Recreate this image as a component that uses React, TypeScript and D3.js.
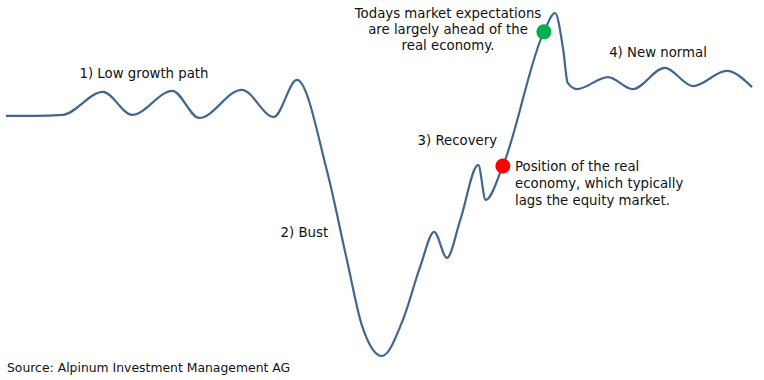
import React from "react";
import * as d3 from "d3";

// time (arbitrary units 0..100) and level (0 = trough, 100 = peak)
const times = [0, 3.9, 7.6, 13.0, 16.9, 22.3, 25.9, 31.6, 35.9, 39.0, 43.0, 45.7, 47.7, 50.4, 53.2, 55.5, 57.4, 59.1, 60.9, 63.3, 64.3, 66.6, 72.1, 73.6, 74.7, 75.3, 76.5, 80.7, 84.0, 88.3, 92.1, 96.6, 100];
const levels = [70.0, 70.0, 70.3, 77.0, 70.3, 77.3, 69.4, 77.6, 69.7, 80.5, 54.2, 28.0, 9.0, 0, 10.5, 25.9, 36.2, 28.6, 39.7, 55.7, 45.5, 55.4, 94.5, 100, 89.2, 79.6, 77.8, 81.3, 77.8, 84.0, 78.7, 83.1, 78.4];

const markerNames = ["real", "market"];
const markerTimes = [66.6, 72.1];
const markerLevels = [55.4, 94.5];
const markerColors = ["#ff0000", "#00b050"];

const phaseLabels = ["1) Low growth path", "2) Bust", "3) Recovery", "4) New normal"];
const phaseTimes = [18.5, 40.0, 60.5, 87.4];
const phaseLevels = [82.2, 35.8, 62.7, 88.4];

const marketNote = ["Todays market expectations", "are largely ahead of the", "real economy."];
const realNote = ["Position of the real", "economy, which typically", "lags the equity market."];
const source = "Source: Alpinum Investment Management AG";

const W = 764;
const H = 380;
const FONT = 'Verdana, "DejaVu Sans", sans-serif';

export default function App() {
  const x = d3.scaleLinear().domain([0, 100]).range([6, 752]);
  const y = d3.scaleLinear().domain([0, 100]).range([356, 13]);
  const data = times.map((t, i) => ({ t, v: levels[i] }));
  const line = d3
    .line<{ t: number; v: number }>()
    .x((d) => x(d.t))
    .y((d) => y(d.v))
    .curve(d3.curveMonotoneX);

  return (
    <svg
      width={W}
      height={H}
      style={{ position: "absolute", left: 0, top: 0, background: "#fff" }}
      fontFamily={FONT}
      fontSize={13.3}
    >
      <path d={line(data) || ""} fill="none" stroke="#41668f" strokeWidth={2.2} />
      {markerNames.map((n, i) => (
        <circle key={n} cx={x(markerTimes[i])} cy={y(markerLevels[i])} r={7.5} fill={markerColors[i]} />
      ))}
      {phaseLabels.map((l, i) => (
        <text key={l} x={x(phaseTimes[i])} y={y(phaseLevels[i])} textAnchor="middle" dominantBaseline="middle" fill="#111">
          {l}
        </text>
      ))}
      {marketNote.map((l, i) => (
        <text key={l} x={448} y={14 + i * 16} textAnchor="middle" dominantBaseline="middle" fill="#111">
          {l}
        </text>
      ))}
      {realNote.map((l, i) => (
        <text key={l} x={515} y={167 + i * 17} textAnchor="start" dominantBaseline="middle" fill="#111">
          {l}
        </text>
      ))}
      <text x={7} y={368} dominantBaseline="middle" fill="#111" fontSize={12.4}>
        {source}
      </text>
    </svg>
  );
}
